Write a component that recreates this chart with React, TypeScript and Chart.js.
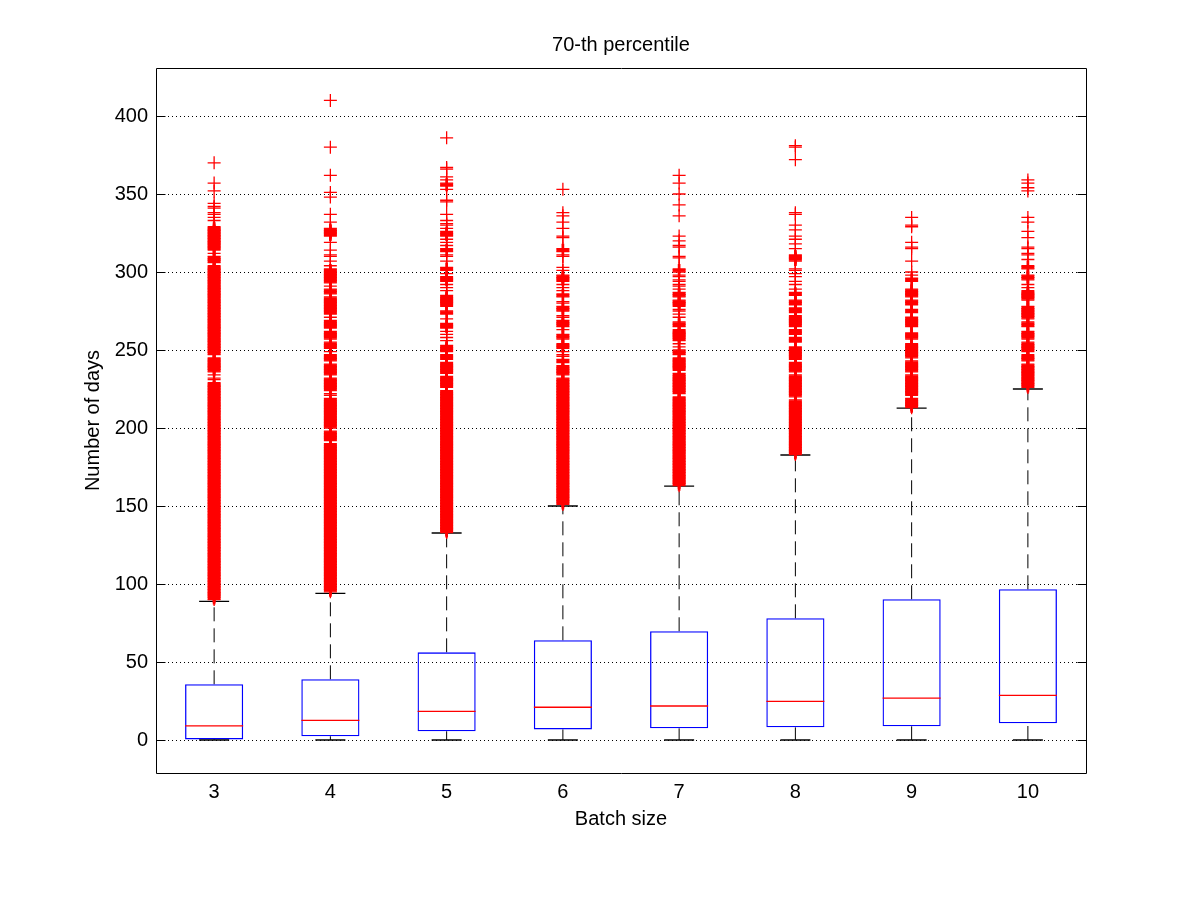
import React, { useEffect, useRef } from 'react';
import { Chart, registerables } from 'chart.js';

Chart.register(...registerables);

const titleText = '70-th percentile';
const xAxisTitle = 'Batch size';
const yAxisTitle = 'Number of days';

const categories = ['3', '4', '5', '6', '7', '8', '9', '10'];
const lowerWhisker = [0, 0, 0, 0, 0, 0, 0, 0];
const q1Values = [0.4, 2.4, 5.6, 6.8, 7.5, 8.1, 8.8, 10.7];
const medianValues = [9, 12.6, 18.4, 21, 21.8, 24.8, 26.9, 28.6];
const q3Values = [35.7, 38.9, 56.2, 63.9, 69.7, 78, 90.2, 96.6];
const upperWhisker = [88.9, 94, 132.7, 150, 162.8, 182.7, 212.8, 225];
const yTickValues = [0, 50, 100, 150, 200, 250, 300, 350, 400];
const yMin = -21.15;
const yMax = 430.77;

const outliers3 = [
  90, 91, 92, 93, 94, 95, 96, 97, 98, 99,
  100, 101, 102, 103, 104, 105, 106, 107, 108, 109,
  110, 111, 112, 113, 114, 115, 116, 117, 118, 119,
  120, 121, 122, 123, 124, 125, 126, 127, 128, 129,
  130, 131, 132, 133, 134, 135, 136, 137, 138, 139,
  140, 141, 142, 143, 144, 145, 146, 147, 148, 149,
  150, 151, 152, 153, 154, 155, 156, 157, 158, 159,
  160, 161, 162, 163, 164, 165, 166, 167, 168, 169,
  170, 171, 172, 173, 174, 175, 176, 177, 178, 179,
  180, 181, 182, 183, 184, 185, 186, 187, 188, 189,
  190, 191, 192, 193, 194, 195, 196, 197, 198, 199,
  200, 201, 202, 203, 204, 205, 206, 207, 208, 209,
  210, 211, 212, 213, 214, 215, 216, 217, 218, 219,
  220, 221, 222, 223, 224, 225, 226, 227, 228, 229,
  231, 232, 234, 236, 237, 238, 239,
  240, 241, 242, 243, 244, 245, 247, 248, 249,
  250, 251, 252, 253, 254, 255, 256, 257, 258, 259,
  260, 261, 262, 263, 264, 265, 266, 267, 268, 269,
  270, 271, 272, 273, 274, 275, 276, 277, 278, 279,
  280, 281, 282, 283, 284, 285, 286, 287, 288, 289,
  290, 291, 292, 293, 294, 295, 296, 297, 298, 299,
  300, 301, 302, 303, 304, 306, 307, 308, 309, 310, 312, 314, 315, 316, 317, 318, 319,
  320, 321, 322, 323, 324, 325, 326, 327, 328, 329,
  333, 335, 337, 338, 341, 342, 344, 352, 357, 370,
];

const outliers4 = [
  95, 96, 97, 98, 99,
  100, 101, 102, 103, 104, 105, 106, 107, 108, 109,
  110, 111, 112, 113, 114, 115, 116, 117, 118, 119,
  120, 121, 122, 123, 124, 125, 126, 127, 128, 129,
  130, 131, 132, 133, 134, 135, 136, 137, 138, 139,
  140, 141, 142, 143, 144, 145, 146, 147, 148, 149,
  150, 151, 152, 153, 154, 155, 156, 157, 158, 159,
  160, 161, 162, 163, 164, 165, 166, 167, 168, 169,
  170, 171, 172, 173, 174, 175, 176, 177, 178, 179,
  180, 181, 182, 183, 184, 185, 186, 187, 188, 189,
  190, 192, 193, 194, 195, 196, 197, 198,
  200, 201, 202, 203, 204, 205, 206, 207, 208, 209,
  210, 211, 212, 213, 214, 215, 216, 217, 218, 219,
  221, 222, 224, 225, 226, 227, 228, 229,
  230, 231, 232, 234, 235, 236, 237, 238, 239,
  240, 241, 243, 244, 245, 246, 247, 249,
  251, 252, 253, 254, 255, 257, 258, 259,
  260, 261, 262, 264, 265, 266, 267, 268, 269,
  271, 273, 274, 275, 276, 277, 278, 279,
  280, 281, 282, 283, 284, 286, 287, 288, 289,
  291, 293, 294, 295, 296, 297, 298, 299,
  300, 301, 302,
  304, 307, 310, 311, 314, 319, 323, 324, 325, 326, 327, 328, 332, 337, 348, 351, 362, 380, 410,
];

const outliers5 = [
  133, 134, 135, 136, 137, 138, 139,
  140, 141, 142, 143, 144, 145, 146, 147, 148, 149,
  150, 151, 152, 153, 154, 155, 156, 157, 158, 159,
  160, 161, 162, 163, 164, 165, 166, 167, 168, 169,
  170, 171, 172, 173, 174, 175, 176, 177, 178, 179,
  180, 181, 182, 183, 184, 185, 186, 187, 188, 189,
  190, 191, 192, 193, 194, 195, 196, 197, 198, 199,
  200, 201, 202, 203, 204, 205, 206, 207, 208, 209,
  210, 211, 212, 213, 214, 215, 216, 217, 218, 219,
  220, 221, 222, 223, 224, 226, 227, 228, 229,
  230, 231, 232, 233, 235, 236, 237, 238, 239,
  240, 241, 242, 244, 245, 246, 247, 249,
  250, 251, 252, 253, 256, 258, 260, 262, 264, 265, 266, 267, 270, 273, 274, 275, 278, 279,
  280, 281, 282, 283, 284, 285, 288, 290, 292, 294, 295, 296, 297, 299,
  301, 302, 303, 307, 310, 311, 313, 314, 315, 317, 319, 321, 323, 324, 325, 326, 328,
  330, 331, 333, 337, 345, 346, 353, 355, 356, 357, 359, 361, 366, 367, 386,
];

const outliers6 = [
  151, 152, 153, 154, 155, 156, 157, 158, 159,
  160, 161, 162, 163, 164, 165, 166, 167, 168, 169,
  170, 171, 172, 173, 174, 175, 176, 177, 178, 179,
  180, 181, 182, 183, 184, 185, 186, 187, 188, 189,
  190, 191, 192, 193, 194, 195, 196, 197, 198, 199,
  200, 201, 202, 203, 204, 205, 206, 207, 208, 209,
  210, 211, 212, 213, 214, 215, 216, 217, 218, 219,
  220, 221, 222, 223, 224, 225, 226, 227, 228, 229,
  230, 231, 232, 234, 235, 236, 237, 238, 239, 240,
  242, 243, 244, 246, 247, 249, 251, 252, 253, 254, 257, 258, 259, 260, 263,
  265, 266, 267, 268, 269, 271, 272, 275, 276, 277, 278, 280, 281, 284, 285, 286, 288,
  290, 292, 294, 295, 296, 297, 298, 301, 303, 310, 311, 313, 314, 315, 322, 323, 328,
  332, 336, 338, 353,
];

const outliers7 = [
  163, 164, 165, 166, 167, 168, 169,
  170, 171, 172, 173, 174, 175, 176, 177, 178, 179,
  180, 181, 182, 183, 184, 185, 186, 187, 188, 189,
  190, 191, 192, 193, 194, 195, 196, 197, 198, 199,
  200, 201, 202, 203, 204, 205, 206, 207, 208, 209,
  210, 211, 212, 213, 214, 215, 216, 217, 218, 219,
  220, 222, 223, 224, 225, 226, 227, 228, 229,
  230, 231, 232, 233, 234, 235, 237, 238, 239,
  240, 241, 242, 243, 244, 245, 247, 248, 249, 250, 252, 254, 256, 257, 258, 259,
  260, 261, 262, 263, 265, 266, 267, 268, 271, 273, 275, 276, 278, 279,
  280, 281, 282, 284, 285, 286, 287, 289, 291, 292, 294, 295, 297, 298,
  300, 301, 302, 309, 310, 316, 317, 320, 323, 336, 343, 350, 357, 362,
];

const outliers8 = [
  183, 184, 185, 186, 187, 188, 189,
  190, 191, 192, 193, 194, 195, 196, 197, 198, 199,
  200, 201, 202, 203, 204, 205, 206, 207, 208, 209,
  210, 211, 212, 213, 214, 215, 216, 217, 218,
  220, 221, 222, 223, 224, 225, 226, 227, 228, 229,
  230, 231, 232, 233, 234, 236, 237, 238, 239,
  240, 241, 242, 244, 245, 246, 247, 248, 249,
  250, 251, 252, 255, 256, 257, 258,
  260, 261, 262, 263, 265, 266, 267, 268, 269,
  270, 271, 272, 274, 275, 276, 277, 279,
  280, 281, 282, 285, 286, 287, 289,
  292, 294, 297, 299, 301, 302, 307, 308, 309, 310, 311, 315, 318, 321, 323, 327,
  330, 337, 338, 372, 380, 381,
];

const outliers9 = [
  213, 214, 215, 216, 217, 218, 219,
  221, 222, 223, 224, 225, 226, 227, 228, 229,
  230, 231, 232, 233, 234, 236, 237, 238, 239,
  240, 241, 242, 243, 245, 246, 247, 248, 249,
  250, 251, 252, 253, 254, 257, 258, 259, 260, 261,
  265, 266, 267, 268, 269, 270, 271, 274, 275, 276, 279,
  280, 281, 282, 284, 285, 286, 287, 288, 289,
  294, 295, 296, 298, 300, 307, 315, 316, 319, 329, 330, 335,
];

const outliers10 = [
  226, 227, 228, 229,
  230, 231, 232, 233, 234, 235, 236, 237, 238, 239,
  240, 241, 243, 244, 245, 246, 247, 249,
  250, 251, 252, 253, 254, 255, 257, 258, 259,
  260, 261, 262, 265, 266, 267, 268,
  270, 271, 272, 273, 274, 275, 276, 277, 278,
  282, 283, 284, 285, 286, 287, 288,
  290, 292, 295, 296, 297, 298, 302, 303, 304, 308, 311, 312, 315, 316, 322, 326,
  332, 335, 352, 354, 357, 359,
];

const outlierLists = [outliers3, outliers4, outliers5, outliers6, outliers7, outliers8, outliers9, outliers10];

const FONT = '"Liberation Sans", Arial, Helvetica, sans-serif';

const framePlugin = {
  id: 'matlabFrame',
  afterDraw(chart: any) {
    const { ctx, chartArea } = chart;
    const yScale = chart.scales.y;
    const align = (p: number) => Math.round(p - 0.5) + 0.5;
    const L = align(chartArea.left);
    const R = align(chartArea.right);
    const T = align(chartArea.top);
    const B = align(chartArea.bottom);
    ctx.save();
    ctx.strokeStyle = '#000000';
    ctx.lineWidth = 1;
    ctx.setLineDash([]);
    ctx.beginPath();
    ctx.rect(L, T, R - L, B - T);
    yTickValues.forEach((v) => {
      const py = align(yScale.getPixelForValue(v));
      ctx.moveTo(L, py);
      ctx.lineTo(L + 9, py);
      ctx.moveTo(R, py);
      ctx.lineTo(R - 9, py);
    });
    ctx.stroke();
    ctx.fillStyle = '#000000';
    ctx.font = `20px ${FONT}`;
    ctx.textAlign = 'center';
    ctx.textBaseline = 'alphabetic';
    ctx.fillText(titleText, (chartArea.left + chartArea.right) / 2, 51);
    ctx.restore();
  },
};

export default function App() {
  const canvasRef = useRef<HTMLCanvasElement | null>(null);

  useEffect(() => {
    if (!canvasRef.current) return;
    const outlierPoints = categories.flatMap((c, i) => outlierLists[i].map((v) => ({ x: c, y: v })));
    // markers inside a run of consecutive days are drawn a bit heavier so the run reads as a solid band
    const outlierWidths = categories.flatMap((c, i) => {
      const set = new Set(outlierLists[i]);
      return outlierLists[i].map((v) => (set.has(v - 1) && set.has(v + 1) ? 2.7 : 1.3));
    });
    const upperWhiskerLines = categories.flatMap((c, i) => [
      { x: c, y: q3Values[i] },
      { x: c, y: upperWhisker[i] },
      { x: c, y: null },
    ]);
    const lowerWhiskerLines = categories.flatMap((c, i) => [
      { x: c, y: lowerWhisker[i] },
      { x: c, y: q1Values[i] },
      { x: c, y: null },
    ]);

    const chart = new Chart(canvasRef.current, {
      type: 'bar',
      data: {
        labels: categories,
        datasets: [
          {
            type: 'line',
            label: 'Outliers',
            data: outlierPoints as any,
            showLine: false,
            pointStyle: 'cross',
            pointRadius: 6.5,
            pointHoverRadius: 6.5,
            pointBorderColor: '#ff0000',
            pointBackgroundColor: 'rgba(0,0,0,0)',
            pointBorderWidth: outlierWidths,
            order: 0,
          } as any,
          {
            type: 'line',
            label: 'Median',
            data: medianValues,
            showLine: false,
            pointStyle: 'line',
            pointRadius: 29,
            pointHoverRadius: 29,
            pointBorderColor: '#ff0000',
            pointBorderWidth: 1.3,
            order: 1,
          } as any,
          {
            type: 'line',
            label: 'Upper adjacent',
            data: upperWhisker,
            showLine: false,
            pointStyle: 'line',
            pointRadius: 15,
            pointHoverRadius: 15,
            pointBorderColor: '#000000',
            pointBorderWidth: 1.3,
            order: 2,
          } as any,
          {
            type: 'line',
            label: 'Lower adjacent',
            data: lowerWhisker,
            showLine: false,
            pointStyle: 'line',
            pointRadius: 15,
            pointHoverRadius: 15,
            pointBorderColor: '#000000',
            pointBorderWidth: 1.3,
            order: 2,
          } as any,
          {
            type: 'bar',
            label: 'Box',
            data: categories.map((_, i) => [q1Values[i], q3Values[i]]),
            backgroundColor: 'rgba(0,0,0,0)',
            borderColor: '#0000ff',
            borderWidth: 1.3,
            borderSkipped: false,
            barPercentage: 0.5,
            categoryPercentage: 1,
            order: 3,
          } as any,
          {
            type: 'line',
            label: 'Upper whisker',
            data: upperWhiskerLines as any,
            borderColor: '#000000',
            borderWidth: 1,
            borderDash: [14, 7],
            pointRadius: 0,
            spanGaps: false,
            order: 4,
          } as any,
          {
            type: 'line',
            label: 'Lower whisker',
            data: lowerWhiskerLines as any,
            borderColor: '#000000',
            borderWidth: 1,
            borderDash: [14, 7],
            pointRadius: 0,
            spanGaps: false,
            order: 4,
          } as any,
        ],
      },
      options: {
        responsive: false,
        animation: false,
        devicePixelRatio: 1,
        events: [],
        layout: { padding: { top: 68, right: 114, left: 0, bottom: 0 } },
        plugins: {
          legend: { display: false },
          tooltip: { enabled: false },
          title: { display: false },
        },
        scales: {
          x: {
            type: 'category',
            offset: true,
            grid: { display: false, drawTicks: false },
            border: { display: false },
            ticks: {
              color: '#000000',
              padding: 7,
              font: { family: FONT, size: 20 },
              maxRotation: 0,
            },
            title: {
              display: true,
              text: xAxisTitle,
              color: '#000000',
              font: { family: FONT, size: 20 },
              padding: { top: 0, bottom: 70 },
            },
            afterFit: (scale: any) => {
              scale.height = 128;
            },
          },
          y: {
            type: 'linear',
            min: yMin,
            max: yMax,
            afterBuildTicks: (scale: any) => {
              scale.ticks = yTickValues.map((v) => ({ value: v }));
            },
            grid: { color: '#000000', lineWidth: 1, drawTicks: false },
            border: { display: false, dash: [1, 3] },
            ticks: {
              color: '#000000',
              padding: 8,
              font: { family: FONT, size: 20 },
            },
            title: {
              display: true,
              text: yAxisTitle,
              color: '#000000',
              font: { family: FONT, size: 20 },
              padding: { top: 81, bottom: 0 },
            },
            afterFit: (scale: any) => {
              scale.width = 156;
            },
          },
        },
      } as any,
      plugins: [framePlugin],
    });
    return () => chart.destroy();
  }, []);

  return (
    <div style={{ position: 'absolute', left: 0, top: 0, width: 1200, height: 901, background: '#ffffff' }}>
      <canvas ref={canvasRef} width={1200} height={901} style={{ display: 'block', width: 1200, height: 901 }} />
    </div>
  );
}
